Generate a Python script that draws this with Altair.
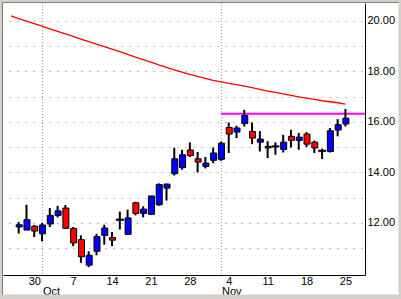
import altair as alt
import pandas as pd

# ---- data (trading-day index 0 = 26 Sep 2002) ----
dates = ["09-26", "09-27", "09-30", "10-01", "10-02", "10-03", "10-04", "10-07", "10-08", "10-09",
         "10-10", "10-11", "10-14", "10-15", "10-16", "10-17", "10-18", "10-21", "10-22", "10-23",
         "10-24", "10-25", "10-28", "10-29", "10-30", "10-31", "11-01", "11-04", "11-05", "11-06",
         "11-07", "11-08", "11-11", "11-12", "11-13", "11-14", "11-15", "11-18", "11-19", "11-20",
         "11-21", "11-22", "11-25"]
opens = [11.84, 11.72, 11.87, 11.57, 11.96, 12.30, 12.59, 11.78, 11.34, 10.33,
         10.88, 11.51, 11.42, 12.13, 11.55, 12.80, 12.38, 12.34, 12.72, 13.38,
         13.95, 14.19, 14.89, 14.54, 14.24, 14.48, 14.52, 15.78, 15.60, 15.94,
         15.62, 15.20, 15.03, 15.03, 14.91, 15.43, 15.27, 15.52, 15.20, 14.86,
         14.83, 15.68, 15.92]
highs = [12.04, 12.72, 11.92, 12.00, 12.59, 12.68, 12.71, 11.84, 11.51, 10.88,
         11.57, 11.93, 11.64, 12.45, 12.53, 12.84, 12.66, 13.07, 13.57, 13.56,
         14.98, 14.90, 15.19, 14.81, 14.61, 14.99, 15.22, 15.98, 15.85, 16.48,
         15.98, 15.64, 15.24, 15.19, 15.49, 15.69, 15.57, 15.60, 15.26, 14.94,
         15.76, 16.11, 16.51]
lows = [11.58, 11.72, 11.44, 11.27, 11.84, 12.22, 11.77, 11.08, 10.42, 10.25,
        10.72, 11.14, 11.08, 11.74, 11.55, 12.30, 12.22, 12.34, 12.68, 12.89,
        13.88, 14.11, 14.61, 14.00, 14.16, 14.37, 14.46, 14.77, 15.36, 15.82,
        15.12, 14.83, 14.57, 14.70, 14.79, 14.99, 14.90, 15.01, 14.77, 14.53,
        14.79, 15.43, 15.82]
closes = [11.93, 12.13, 11.68, 11.92, 12.30, 12.48, 11.79, 11.21, 10.66, 10.72,
          11.46, 11.80, 11.32, 12.13, 12.20, 12.38, 12.55, 13.07, 13.52, 13.54,
          14.54, 14.70, 14.67, 14.41, 14.37, 14.77, 15.16, 15.52, 15.76, 16.26,
          15.36, 15.32, 14.97, 15.03, 15.20, 15.27, 15.40, 15.12, 14.97, 14.86,
          15.65, 15.89, 16.15]
# moving average, starting one trading day before the first candle (index -1)
ma_values = [20.20, 20.09, 19.99, 19.89, 19.79, 19.69, 19.59, 19.49, 19.39, 19.28,
             19.18, 19.08, 18.98, 18.88, 18.78, 18.68, 18.57, 18.47, 18.37, 18.26,
             18.16, 18.06, 17.97, 17.88, 17.80, 17.73, 17.65, 17.59, 17.53, 17.48,
             17.42, 17.36, 17.29, 17.22, 17.17, 17.11, 17.05, 16.99, 16.94, 16.89,
             16.84, 16.80, 16.76, 16.71]
tick_days = [2, 7, 12, 17, 22, 27, 32, 37, 42]
tick_labels = ["30", "7", "14", "21", "28", "4", "11", "18", "25"]
month_names = ["Oct", "Nov"]
month_starts = [3, 26]
resist_start = [26]
resist_level = [16.32]
y_ticks = [11, 12, 13, 14, 15, 16, 17, 18, 19, 20]

df = pd.DataFrame({"i": list(range(len(opens))), "date": dates, "open": opens,
                   "high": highs, "low": lows, "close": closes})
ma_df = pd.DataFrame({"i": list(range(-1, len(ma_values) - 1)), "ma": ma_values})
month_df = pd.DataFrame({"i": month_starts, "name": month_names})
res_df = pd.DataFrame({"i": resist_start, "level": resist_level})
frame_df = pd.DataFrame({"k": [0]})

W, H = 362, 272
FONT = "Liberation Sans"

xscale = alt.Scale(domain=[-1.375, 43.875], nice=False, zero=False)
yscale = alt.Scale(domain=[9.94, 20.71], nice=False, zero=False)

label_expr_x = ("[" + ",".join("'%s'" % s for s in tick_labels) + "][indexof(["
                + ",".join(str(v) for v in tick_days) + "], datum.value)]")
xaxis = alt.Axis(values=tick_days, labelExpr=label_expr_x, grid=False, ticks=False,
                 domainColor="black", domainWidth=1, labelFont=FONT, labelFontSize=11,
                 labelColor="black", labelPadding=0, labelFlush=False, labelOverlap=False,
                 title=None)
yaxis = alt.Axis(values=y_ticks, orient="right",
                 labelExpr="datum.value % 2 == 0 ? format(datum.value, '.2f') : ''",
                 grid=True, gridDash=[1, 7], gridDashOffset=5, gridColor="#808080",
                 ticks=False, domainColor="black", domainWidth=1, labelFont=FONT,
                 labelFontSize=11, labelColor="black", labelPadding=2, labelOverlap=False,
                 title=None)


def X(field):
    return alt.X(field, type="quantitative", scale=xscale, axis=xaxis)


def Y(field):
    return alt.Y(field, type="quantitative", scale=yscale, axis=yaxis)


month_rules = alt.Chart(month_df).mark_rule(
    color="#9a9a9a", strokeDash=[1, 2], strokeWidth=1, xOffset=0.5
).encode(x=X("i"))

resist = alt.Chart(res_df).mark_rule(color="#ff00ff", strokeWidth=2).encode(
    x=X("i"), x2=alt.value(W), y=Y("level"))

ma_line = alt.Chart(ma_df).mark_line(color="#ff0000", strokeWidth=1.3).encode(
    x=X("i"), y=Y("ma"))

wicks = alt.Chart(df).mark_rule(color="black", strokeWidth=2).encode(
    x=X("i"), y=Y("low"), y2="high")

bodies = alt.Chart(df).mark_bar(size=6, stroke="black", strokeWidth=1, xOffset=0.5).encode(
    x=X("i"), y=Y("open"), y2="close",
    color=alt.condition("datum.close >= datum.open", alt.value("#0000ff"), alt.value("#ff0000")))

doji = alt.Chart(df).transform_filter("datum.open == datum.close").mark_tick(
    color="black", thickness=2, size=8, orient="horizontal", opacity=1
).encode(x=X("i"), y=Y("open"))

months = alt.Chart(month_df).mark_text(
    align="left", baseline="middle", font=FONT, fontSize=11, color="black", dx=1
).encode(x=X("i"), y=alt.value(H + 17), text="name:N")

# window frame (gray border around the white panel)
frame_gray = alt.Chart(frame_df).mark_rect(
    fill="transparent", stroke="#d4d0c8", strokeWidth=5
).encode(x=alt.value(-3), x2=alt.value(398), y=alt.value(-3), y2=alt.value(294))
frame_left = alt.Chart(frame_df).mark_rule(color="#808080", strokeWidth=1).encode(
    x=alt.value(-0.5), y=alt.value(-0.5), y2=alt.value(291.5))
frame_top = alt.Chart(frame_df).mark_rule(color="#808080", strokeWidth=1).encode(
    x=alt.value(-0.5), x2=alt.value(395.5), y=alt.value(-0.5))

chart = alt.layer(
    month_rules, resist, ma_line, wicks, bodies, doji, months,
    frame_gray, frame_left, frame_top
).properties(
    width=W, height=H,
    autosize=alt.AutoSizeParams(type="none"),
    padding={"left": 3, "top": 3, "right": 36, "bottom": 24},
    background="white",
).configure_view(stroke=None)

chart.save("out.html", embed_options={"renderer": "svg", "actions": False})
